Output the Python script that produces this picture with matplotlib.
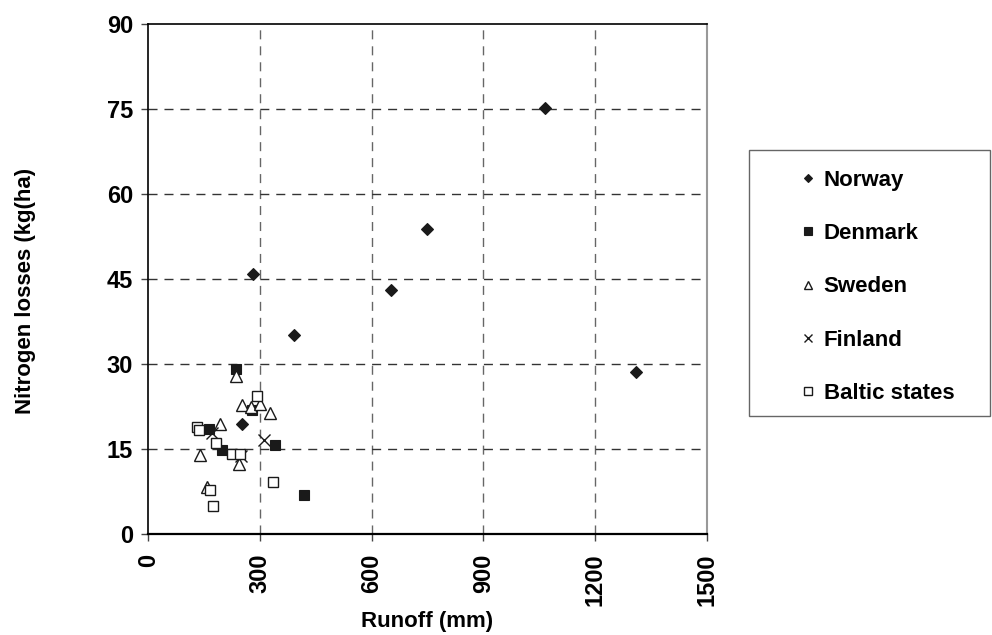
import matplotlib
matplotlib.use("Agg")
import matplotlib.pyplot as plt
from matplotlib.patches import Rectangle

plt.rcParams['font.family'] = ['Liberation Sans', 'DejaVu Sans']
plt.rcParams['font.weight'] = 'bold'

# runoff (mm) / nitrogen losses
norway_x = [1065, 749, 653, 281, 391, 1310, 251]
norway_y = [75.1, 53.9, 43.1, 45.9, 35.2, 28.6, 19.5]

denmark_x = [235, 278, 164, 197, 340, 418]
denmark_y = [29.1, 21.9, 18.5, 14.8, 15.7, 6.8]

sweden_x = [235, 251, 276, 300, 327, 193, 139, 244, 157]
sweden_y = [27.8, 22.8, 22.5, 23.0, 21.4, 19.5, 13.9, 12.3, 8.3]

finland_x = [170, 311, 248]
finland_y = [17.8, 16.6, 13.8]

baltic_x = [291, 132, 137, 182, 224, 246, 336, 167, 175]
baltic_y = [24.4, 18.9, 18.3, 16.0, 14.1, 14.1, 9.1, 7.8, 5.0]

xticks = [0, 300, 600, 900, 1200, 1500]
yticks = [0, 15, 30, 45, 60, 75, 90]

W, H = 992, 635
fig = plt.figure(figsize=(W / 100, H / 100), dpi=100)
ax = fig.add_axes([148.3 / W, (H - 534) / H, 558.4 / W, 510 / H])

blk = '#1a1a1a'
ax.plot(norway_x, norway_y, 'D', ms=5.8, color=blk, mec=blk, mew=0.8, label='Norway', zorder=3)
ax.plot(denmark_x, denmark_y, 's', ms=7.4, color=blk, mec=blk, mew=0.8, label='Denmark', zorder=3)
ax.plot(sweden_x, sweden_y, '^', ms=8, mfc='white', mec=blk, mew=1.0, label='Sweden', zorder=3)
ax.plot(finland_x, finland_y, 'x', ms=8, color=blk, mew=1.0, label='Finland', zorder=3)
ax.plot(baltic_x, baltic_y, 's', ms=7.4, mfc='white', mec=blk, mew=1.0, label='Baltic states', zorder=3)

ax.set_xlim(0, 1500)
ax.set_ylim(0, 90)
ax.set_xticks(xticks)
ax.set_yticks(yticks)
ax.set_xticklabels([str(v) for v in xticks], rotation=90, fontsize=17, fontweight='bold')
ax.set_yticklabels([str(v) for v in yticks], fontsize=17, fontweight='bold')
ax.tick_params(axis='both', direction='out', length=5, width=1, color='#444444')
ax.tick_params(axis='x', pad=9)
ax.tick_params(axis='y', pad=6)

for v in xticks[1:]:
    ax.axvline(v, color='#666666', lw=1, ls=(0, (6.5, 5)), zorder=1)
for v in yticks[1:-1]:
    ax.axhline(v, color='#333333', lw=1, ls=(0, (6.5, 5)), zorder=1)

ax.spines['left'].set_color('black')
ax.spines['left'].set_linewidth(1.2)
ax.spines['bottom'].set_color('black')
ax.spines['bottom'].set_linewidth(1.6)
ax.spines['top'].set_color('black')
ax.spines['top'].set_linewidth(1.2)
ax.spines['right'].set_color('#999999')
ax.spines['right'].set_linewidth(1.5)

ax.set_xlabel('Runoff (mm)', fontsize=16, fontweight='bold')
ax.xaxis.set_label_coords((427 - 148.3) / 558.4, (534 - 611) / 510)
ax.set_ylabel('Nitrogen losses (kg(ha)', fontsize=16, fontweight='bold')
ax.yaxis.set_label_coords((36 - 148.3) / 558.4, (534 - 291) / 510)

# legend box drawn separately
fig.patches.append(Rectangle((749 / W, (H - 416) / H), 241 / W, 266 / H,
                             transform=fig.transFigure, fill=False,
                             edgecolor='#666666', lw=1))
fig.legend(loc='upper left', bbox_to_anchor=(797 / W, (H - 170) / H),
           frameon=False, markerscale=0.72, handlelength=1.0,
           handletextpad=0.2, labelspacing=1.45, borderpad=0, borderaxespad=0,
           prop={'weight': 'bold', 'size': 16})

fig.savefig('out.png', dpi=100)
